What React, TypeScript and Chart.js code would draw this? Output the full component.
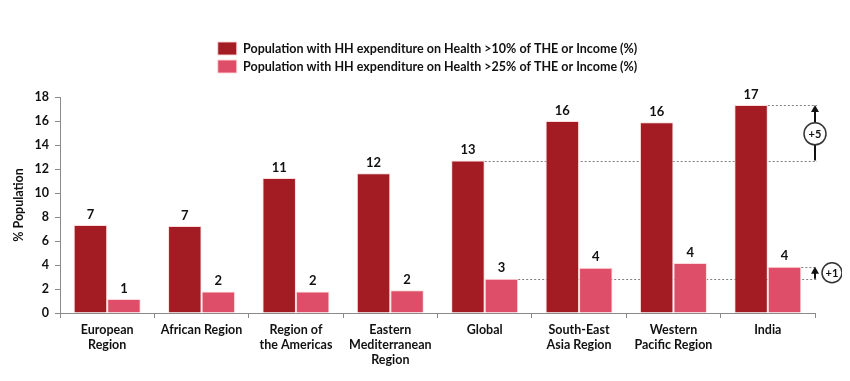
import React, { useEffect, useRef } from "react";
import { Chart, registerables } from "chart.js";

Chart.register(...registerables);

const categories: string[][] = [
  ["European", "Region"],
  ["African Region"],
  ["Region of", "the Americas"],
  ["Eastern", "Mediterranean", "Region"],
  ["Global"],
  ["South-East", "Asia Region"],
  ["Western", "Pacific Region"],
  ["India"],
];
const over10: number[] = [7.33, 7.25, 11.25, 11.65, 12.7, 16.0, 15.9, 17.33];
const over25: number[] = [1.17, 1.8, 1.8, 1.9, 2.85, 3.78, 4.17, 3.86];
const seriesNames: string[] = [
  "Population with HH expenditure on Health >10% of THE or Income (%)",
  "Population with HH expenditure on Health >25% of THE or Income (%)",
];
const yTickMax = 18;
const yTickStep = 2;
const gapLabels: string[] = ["+5", "+1"];
const baseIndex = 4; // Global
const compIndex = 7; // India

const FONT = "Lato, 'Open Sans', sans-serif";
const DARK = "#A31B23";
const LIGHT = "#DF4E68";

const legendSpacer = {
  id: "legendSpacer",
  beforeInit(chart: any) {
    const orig = chart.legend.fit;
    chart.legend.fit = function () {
      orig.call(this);
      this.height = 60;
    };
  },
  afterLayout(chart: any) {
    if (chart.legend) {
      chart.legend.left += 16;
      chart.legend.right += 16;
    }
  },
};

const annotations = {
  id: "annotations",
  beforeDatasetsDraw(chart: any) {
    const ctx = chart.ctx;
    const y = chart.scales.y;
    const area = chart.chartArea;
    const m0 = chart.getDatasetMeta(0);
    const m1 = chart.getDatasetMeta(1);
    const endX = area.right + 2;
    ctx.save();
    ctx.setLineDash([2, 2]);
    ctx.strokeStyle = "#808080";
    ctx.lineWidth = 1;
    const line = (x0: number, yy: number) => {
      ctx.beginPath();
      ctx.moveTo(x0, Math.round(yy) + 0.5);
      ctx.lineTo(endX, Math.round(yy) + 0.5);
      ctx.stroke();
    };
    const b0 = m0.data[baseIndex];
    const b1 = m1.data[baseIndex];
    const c0 = m0.data[compIndex];
    const c1 = m1.data[compIndex];
    line(b0.x + b0.width / 2, y.getPixelForValue(over10[baseIndex]));
    line(c0.x + c0.width / 2, y.getPixelForValue(over10[compIndex]));
    line(b1.x + b1.width / 2, y.getPixelForValue(over25[baseIndex]));
    line(c1.x + c1.width / 2, y.getPixelForValue(over25[compIndex]));
    ctx.restore();
  },
  afterDatasetsDraw(chart: any) {
    const ctx = chart.ctx;
    const y = chart.scales.y;
    const area = chart.chartArea;
    ctx.save();
    // data labels
    ctx.fillStyle = "#111";
    ctx.font = `bold 13px ${FONT}`;
    ctx.textAlign = "center";
    ctx.textBaseline = "bottom";
    [over10, over25].forEach((arr, di) => {
      const meta = chart.getDatasetMeta(di);
      meta.data.forEach((bar: any, i: number) => {
        ctx.fillText(String(Math.round(arr[i])), bar.x, bar.y - 4);
      });
    });

    const ax = area.right;
    const arrow = (yBottom: number, yTop: number) => {
      ctx.strokeStyle = "#111";
      ctx.fillStyle = "#111";
      ctx.lineWidth = 2;
      ctx.setLineDash([]);
      ctx.beginPath();
      ctx.moveTo(ax, yBottom);
      ctx.lineTo(ax, yTop + 5);
      ctx.stroke();
      ctx.beginPath();
      ctx.moveTo(ax, yTop);
      ctx.lineTo(ax - 4, yTop + 7);
      ctx.lineTo(ax + 4, yTop + 7);
      ctx.closePath();
      ctx.fill();
    };
    const circle = (cx: number, cy: number, r: number, t: string) => {
      ctx.beginPath();
      ctx.arc(cx, cy, r, 0, Math.PI * 2);
      ctx.fillStyle = "#fff";
      ctx.fill();
      ctx.lineWidth = 1.5;
      ctx.strokeStyle = "#333";
      ctx.stroke();
      ctx.fillStyle = "#111";
      ctx.font = `bold 11px ${FONT}`;
      ctx.textAlign = "center";
      ctx.textBaseline = "middle";
      ctx.fillText(t, cx, cy + 0.5);
    };
    const yb5 = y.getPixelForValue(over10[baseIndex]);
    const yt5 = y.getPixelForValue(over10[compIndex]);
    arrow(yb5, yt5);
    circle(ax, (yb5 + yt5) / 2 + 1, 11, gapLabels[0]);
    const yb1 = y.getPixelForValue(over25[baseIndex]);
    const yt1 = y.getPixelForValue(over25[compIndex]);
    arrow(yb1, yt1);
    circle(ax + 17, (yb1 + yt1) / 2, 10, gapLabels[1]);
    ctx.restore();
  },
};

export default function App() {
  const ref = useRef<HTMLCanvasElement>(null);
  useEffect(() => {
    if (!ref.current) return;
    const chart = new Chart(ref.current, {
      type: "bar",
      data: {
        labels: categories,
        datasets: [
          {
            label: seriesNames[0],
            data: over10,
            backgroundColor: DARK,
            borderColor: "rgba(255,215,215,0.9)",
            borderWidth: 1,
            categoryPercentage: 0.71,
            barPercentage: 1,
          },
          {
            label: seriesNames[1],
            data: over25,
            backgroundColor: LIGHT,
            borderColor: "rgba(255,215,215,0.9)",
            borderWidth: 1,
            categoryPercentage: 0.71,
            barPercentage: 1,
          },
        ],
      },
      options: {
        animation: false,
        responsive: true,
        maintainAspectRatio: false,
        layout: { padding: { top: 29, left: 0, right: 27, bottom: 0 } },
        plugins: {
          legend: {
            position: "top",
            labels: {
              boxWidth: 19,
              boxHeight: 13,
              padding: 5,
              color: "#111",
              font: { family: FONT, size: 12.5, weight: "bold" },
            },
          },
          tooltip: { enabled: false },
        },
        scales: {
          x: {
            grid: {
              display: true,
              drawOnChartArea: false,
              drawTicks: true,
              tickLength: 5,
              color: "#8a8a8a",
            },
            border: { display: true, color: "#8a8a8a" },
            ticks: {
              color: "#111",
              font: { family: FONT, size: 12.5, weight: "bold", lineHeight: 1.2 },
              padding: 4,
              maxRotation: 0,
              autoSkip: false,
            },
            afterFit(scale: any) {
              scale.height = 60;
            },
          },
          y: {
            min: 0,
            max: yTickMax,
            grid: {
              display: true,
              drawOnChartArea: false,
              drawTicks: true,
              tickLength: 5,
              color: "#8a8a8a",
            },
            border: { display: true, color: "#8a8a8a" },
            ticks: {
              stepSize: yTickStep,
              color: "#111",
              font: { family: FONT, size: 12.5, weight: "bold" },
              padding: 6,
            },
            title: {
              display: true,
              text: "% Population",
              color: "#111",
              font: { family: FONT, size: 12.5, weight: "bold" },
              padding: { top: 3, bottom: 0 },
            },
            afterFit(scale: any) {
              scale.width = 52;
            },
          },
        },
      },
      plugins: [legendSpacer, annotations],
    } as any);
    return () => chart.destroy();
  }, []);
  return (
    <div style={{ width: 834, height: 365, position: "relative" }}>
      <canvas ref={ref} />
    </div>
  );
}
